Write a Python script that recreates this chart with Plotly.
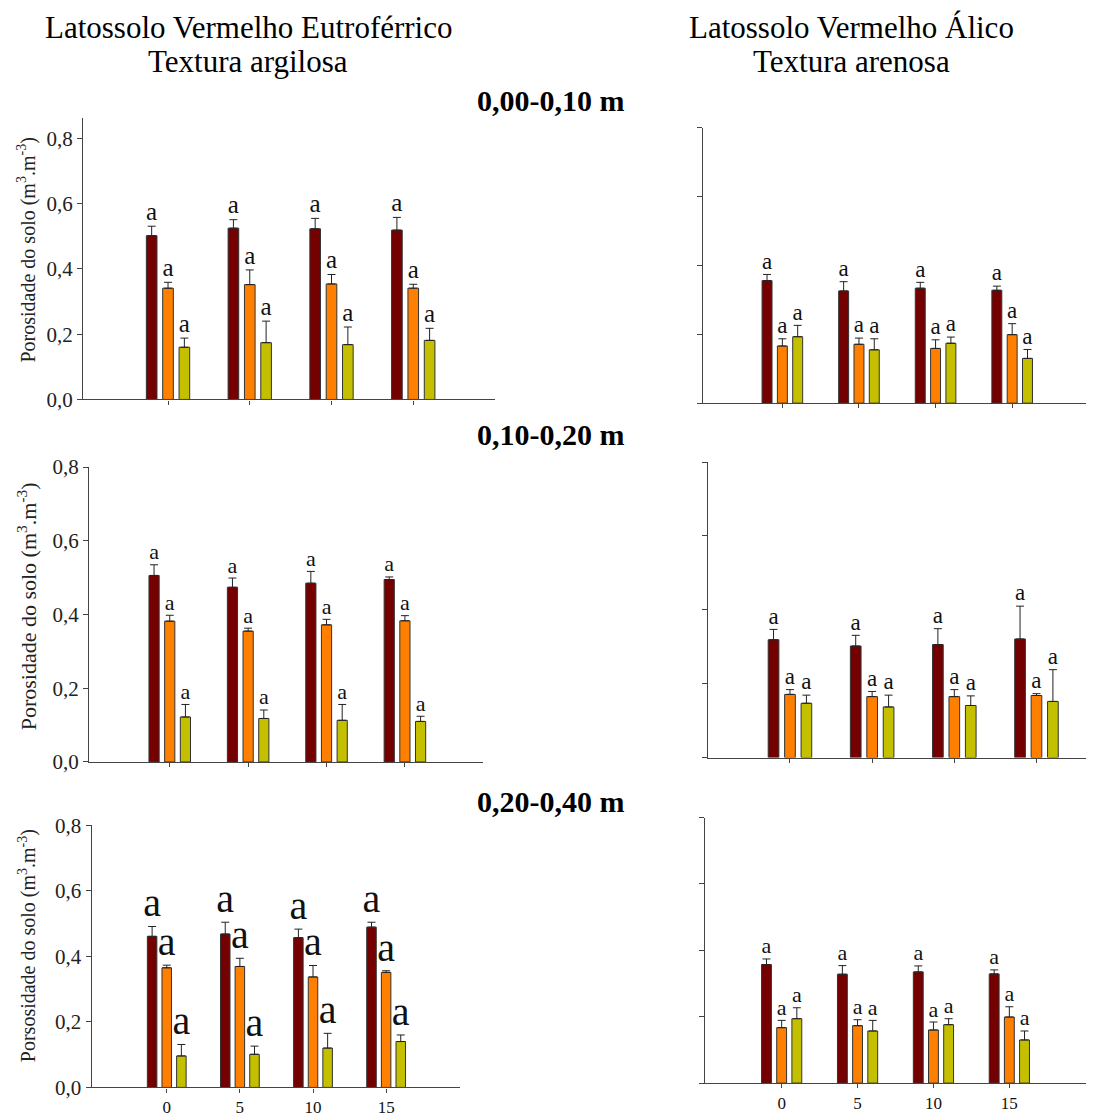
import plotly.graph_objects as go

# ---------------- data ----------------
doses = ["0", "5", "10", "15"]
series_names = ["Porosidade total", "Microporosidade", "Macroporosidade"]
series_colors = ["#750000", "#FF8000", "#C4C000"]

# 0,00-0,10 m  - Eutroférrico (argilosa)
tl_pt = [0.502, 0.525, 0.523, 0.519]
tl_pt_err = [0.029, 0.026, 0.032, 0.039]
tl_mi = [0.341, 0.352, 0.354, 0.341]
tl_mi_err = [0.018, 0.045, 0.029, 0.012]
tl_ma = [0.160, 0.174, 0.168, 0.181]
tl_ma_err = [0.028, 0.066, 0.054, 0.037]

# 0,00-0,10 m  - Álico (arenosa)
tr_pt = [0.356, 0.326, 0.334, 0.328]
tr_pt_err = [0.018, 0.027, 0.017, 0.012]
tr_mi = [0.166, 0.171, 0.159, 0.199]
tr_mi_err = [0.021, 0.018, 0.025, 0.032]
tr_ma = [0.193, 0.155, 0.174, 0.130]
tr_ma_err = [0.033, 0.032, 0.018, 0.026]

# 0,10-0,20 m  - Eutroférrico
ml_pt = [0.506, 0.474, 0.485, 0.495]
ml_pt_err = [0.029, 0.025, 0.032, 0.007]
ml_mi = [0.382, 0.355, 0.372, 0.383]
ml_mi_err = [0.016, 0.008, 0.015, 0.014]
ml_ma = [0.122, 0.118, 0.113, 0.110]
ml_ma_err = [0.034, 0.023, 0.043, 0.014]

# 0,10-0,20 m  - Álico
mr_pt = [0.319, 0.302, 0.306, 0.321]
mr_pt_err = [0.028, 0.029, 0.043, 0.089]
mr_mi = [0.171, 0.165, 0.165, 0.168]
mr_mi_err = [0.013, 0.014, 0.019, 0.005]
mr_ma = [0.147, 0.137, 0.141, 0.152]
mr_ma_err = [0.022, 0.032, 0.026, 0.086]

# 0,20-0,40 m  - Eutroférrico
bl_pt = [0.461, 0.468, 0.457, 0.489]
bl_pt_err = [0.030, 0.036, 0.026, 0.015]
bl_mi = [0.365, 0.369, 0.337, 0.351]
bl_mi_err = [0.008, 0.025, 0.035, 0.005]
bl_ma = [0.096, 0.101, 0.120, 0.140]
bl_ma_err = [0.035, 0.025, 0.045, 0.020]

# 0,20-0,40 m  - Álico
br_pt = [0.357, 0.328, 0.335, 0.329]
br_pt_err = [0.017, 0.026, 0.018, 0.012]
br_mi = [0.167, 0.173, 0.160, 0.199]
br_mi_err = [0.022, 0.018, 0.024, 0.031]
br_ma = [0.194, 0.157, 0.176, 0.130]
br_ma_err = [0.033, 0.032, 0.018, 0.027]

letters = ["a", "a", "a", "a"]
y_tickvals = [0, 0.2, 0.4, 0.6, 0.8]
y_ticktext = ["0,0", "0,2", "0,4", "0,6", "0,8"]

header_left = ["Latossolo Vermelho Eutroférrico", "Textura argilosa"]
header_right = ["Latossolo Vermelho Álico", "Textura arenosa"]
depths = ["0,00-0,10 m", "0,10-0,20 m", "0,20-0,40 m"]
ytitle = "Porosidade do solo (m<sup>3</sup>.m<sup>-3</sup>)"
ytitle_bl = "Porsosidade do solo (m<sup>3</sup>.m<sup>-3</sup>)"

# ---------------- layout geometry ----------------
W, H = 1094, 1118
FONT = "Liberation Serif, Times New Roman, serif"

# calibration: target screen pixel -> figure pixel (page offset / scaling)
def fx(px):
    return px - 8.0

def fy(py):
    return py / 0.979 - 19.8

def paper_x(px):
    return min(max(fx(px) / W, 0.0), 1.0)

def paper_y(py):
    return min(max(1 - fy(py) / H, 0.0), 1.0)

panels = [
    dict(data=(tl_pt, tl_pt_err, tl_mi, tl_mi_err, tl_ma, tl_ma_err),
         px=(83, 495), py=(117, 399), ymax=0.864, xr=(-1.04, 4.0), fs=25, ylab=True, xlab=False),
    dict(data=(tr_pt, tr_pt_err, tr_mi, tr_mi_err, tr_ma, tr_ma_err),
         px=(702.7, 1088), py=(127.3, 402.7), ymax=0.8, xr=(-1.04, 3.99), fs=23, ylab=False, xlab=False),
    dict(data=(ml_pt, ml_pt_err, ml_mi, ml_mi_err, ml_ma, ml_ma_err),
         px=(89, 483.3), py=(466.7, 761.7), ymax=0.8, xr=(-1.03, 4.0), fs=22, ylab=True, xlab=False),
    dict(data=(mr_pt, mr_pt_err, mr_mi, mr_mi_err, mr_ma, mr_ma_err),
         px=(708.3, 1094), py=(461.7, 757.3), ymax=0.8, xr=(-0.994, 3.70), fs=23, ylab=False, xlab=False),
    dict(data=(bl_pt, bl_pt_err, bl_mi, bl_mi_err, bl_ma, bl_ma_err),
         px=(91.7, 460), py=(825, 1087.3), ymax=0.8, xr=(-1.026, 4.01), fs=40, ylab=True, xlab=True),
    dict(data=(br_pt, br_pt_err, br_mi, br_mi_err, br_ma, br_ma_err),
         px=(705, 1086), py=(817.3, 1083), ymax=0.8, xr=(-1.01, 4.01), fs=22, ylab=False, xlab=True),
]

shifts = [-0.2, 0.0, 0.2]
bar_w = 0.13
AXC = "#444444"

fig = go.Figure()
layout_axes = {}

for k, p in enumerate(panels):
    n = "" if k == 0 else str(k + 1)
    xa, ya = "x" + n, "y" + n
    vals = p["data"]
    for j in range(3):
        mean = vals[2 * j]
        err = vals[2 * j + 1]
        xs = [i + shifts[j] for i in range(len(doses))]
        fig.add_trace(go.Bar(
            x=xs, y=mean, width=bar_w, name=series_names[j],
            marker=dict(color=series_colors[j], line=dict(color="#333333", width=1)),
            error_y=dict(type="data", symmetric=False, array=err, arrayminus=[0] * len(err),
                         color="#222222", thickness=1, width=4),
            xaxis=xa, yaxis=ya, showlegend=False))
        fig.add_trace(go.Scatter(
            x=xs, y=[m + e for m, e in zip(mean, err)], mode="text", text=letters,
            textposition="top center",
            textfont=dict(family=FONT, size=p["fs"], color="#111111"),
            xaxis=xa, yaxis=ya, showlegend=False, cliponaxis=False, hoverinfo="skip"))

    x0, x1 = p["px"]
    t, b = p["py"]
    layout_axes["xaxis" + n] = dict(
        domain=[paper_x(x0), paper_x(x1)], range=list(p["xr"]), anchor=ya,
        showline=True, linecolor=AXC, linewidth=1.3, showgrid=False, zeroline=False,
        tickmode="array", tickvals=list(range(len(doses))), ticktext=doses,
        ticks="outside", ticklen=4, tickcolor=AXC, showticklabels=p["xlab"],
        tickfont=dict(family=FONT, size=17, color="#111111"), fixedrange=True)
    layout_axes["yaxis" + n] = dict(
        domain=[paper_y(b), paper_y(t)], range=[0, p["ymax"]], anchor=xa,
        showline=True, linecolor=AXC, linewidth=1.3, showgrid=False, zeroline=False,
        tickmode="array", tickvals=y_tickvals, ticktext=y_ticktext,
        ticks="outside", ticklen=5, tickcolor=AXC, showticklabels=p["ylab"],
        tickfont=dict(family=FONT, size=21, color="#222222"), fixedrange=True)

annotations = []
# headers
for lines, cx in ((header_left, 248), (header_right, 851)):
    for txt, cy in zip(lines, (27, 61)):
        annotations.append(dict(text=txt, x=paper_x(cx), y=paper_y(cy), xref="paper", yref="paper",
                                xanchor="center", yanchor="middle", showarrow=False,
                                font=dict(family=FONT, size=31, color="black")))
# depth labels
for txt, cy in zip(depths, (100, 434, 801)):
    annotations.append(dict(text="<b>" + txt + "</b>", x=paper_x(550), y=paper_y(cy),
                            xref="paper", yref="paper",
                            xanchor="center", yanchor="middle", showarrow=False,
                            font=dict(family=FONT, size=30, color="black")))
# y titles
for txt, cy, fs in ((ytitle, 250, 20), (ytitle, 606, 22), (ytitle_bl, 946, 20)):
    annotations.append(dict(text=txt, x=paper_x(27), y=paper_y(cy), xref="paper", yref="paper",
                            xanchor="center", yanchor="middle", showarrow=False, textangle=-90,
                            font=dict(family=FONT, size=fs, color="#222222")))

fig.update_layout(
    width=W, height=H, margin=dict(l=0, r=0, t=0, b=0),
    paper_bgcolor="white", plot_bgcolor="white",
    barmode="overlay", showlegend=False,
    annotations=annotations, **layout_axes)

fig.write_html("out.html")
